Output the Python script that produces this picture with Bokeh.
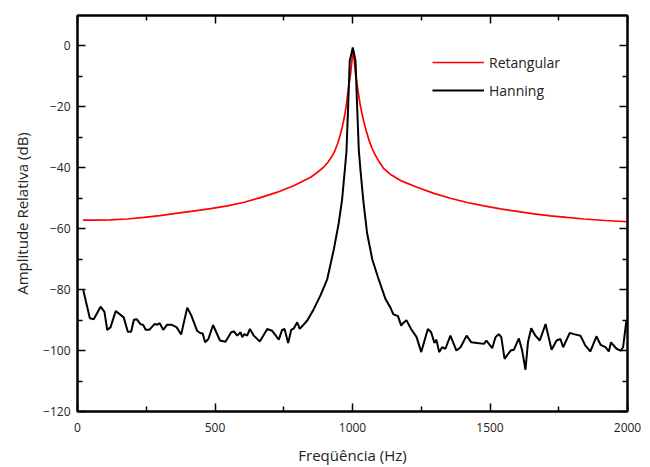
from bokeh.plotting import figure
from bokeh.models import (Range1d, LinearAxis, FixedTicker, CustomJSTickFormatter,
                          Legend, LegendItem)
from bokeh.embed import file_html
from bokeh.resources import INLINE

# Rectangular window spectrum (Hz, dB)
rect_freq = [20, 60, 120, 180, 242, 300, 364, 420, 484, 545, 606, 665, 727, 788, 848,
             875, 895, 912, 925, 936, 946, 955, 963, 970, 977, 984, 993, 999, 1002,
             1005, 1011, 1020, 1027, 1034, 1041, 1050, 1060, 1071, 1084, 1098, 1114,
             1140, 1175, 1235, 1296, 1356, 1417, 1478, 1538, 1599, 1660, 1720, 1780,
             1841, 1920, 2000]
rect_db = [-57.2, -57.2, -57.1, -56.8, -56.3, -55.7, -54.9, -54.2, -53.4, -52.5, -51.3,
           -49.8, -48.0, -45.8, -43.1, -41.3, -39.8, -38.0, -36.3, -34.4, -32.0, -29.3,
           -26.5, -23.5, -19.8, -14.7, -9.2, -3.8, -0.7,
           -3.8, -9.2, -14.7, -18.8, -22.0, -24.8, -27.9, -30.9, -33.6, -36.0, -38.2,
           -40.3, -42.3, -44.2, -46.4, -48.4, -50.0, -51.4, -52.5, -53.5, -54.3, -55.1,
           -55.8, -56.3, -56.8, -57.3, -57.7]

# Hanning window spectrum (Hz, dB)
hann_freq = [21, 45, 59, 84, 98, 108, 120, 139, 168, 183, 195, 205, 215, 229, 239, 248,
             261, 280, 290, 299, 312, 326, 341, 360, 377, 399, 413, 435, 447, 455, 464,
             476, 493, 518, 538, 559, 569, 581, 593, 599, 607, 617, 627, 641, 663, 690,
             708, 732, 744, 753, 766, 777, 787, 799, 808, 835, 859, 884, 908, 932, 950,
             962, 972, 978, 984, 990, 1001, 1011, 1017, 1023, 1029, 1039, 1053, 1072,
             1093, 1120, 1138, 1148, 1156, 1165, 1177, 1184, 1196, 1213, 1233, 1250,
             1274, 1286, 1298, 1305, 1315, 1326, 1338, 1356, 1378, 1393, 1415, 1432,
             1453, 1478, 1487, 1508, 1520, 1532, 1541, 1553, 1575, 1587, 1605, 1617,
             1629, 1638, 1650, 1665, 1681, 1702, 1724, 1742, 1756, 1766, 1790, 1805,
             1829, 1847, 1865, 1887, 1902, 1920, 1932, 1940, 1960, 1975, 1984, 1996]
hann_db = [-80.2, -89.4, -89.7, -85.6, -87.3, -93.2, -92.4, -87.0, -89.1, -93.8, -93.8,
           -89.9, -89.7, -91.3, -91.6, -93.2, -93.2, -91.3, -91.5, -91.0, -93.2, -91.5,
           -91.5, -92.3, -94.7, -85.9, -88.3, -93.5, -94.3, -94.3, -97.3, -96.2, -91.6,
           -96.7, -97.1, -94.0, -93.7, -95.1, -94.0, -95.6, -94.6, -95.1, -92.9, -95.1,
           -97.0, -92.9, -93.5, -96.4, -93.2, -92.9, -97.5, -93.2, -92.7, -90.7, -92.9,
           -90.2, -86.4, -81.8, -76.6, -66.8, -58.1, -50.5, -40.8, -34.8, -20.1, -4.9,
           -0.5, -4.9, -20.1, -34.2, -40.8, -50.5, -61.4, -70.1, -76.0, -83.1, -85.9,
           -88.0, -88.4, -88.6, -91.8, -91.0, -90.0, -92.9, -95.6, -100.5, -92.9, -94.0,
           -97.5, -96.4, -100.5, -98.9, -99.4, -95.1, -100.0, -98.9, -95.1, -97.3, -97.5,
           -97.8, -96.7, -99.2, -95.6, -94.6, -95.6, -102.7, -100.0, -99.7, -96.0,
           -100.0, -106.3, -97.3, -92.7, -95.1, -96.7, -91.3, -99.7, -96.7, -96.2,
           -98.9, -94.2, -94.6, -95.1, -98.4, -100.3, -95.3, -98.1, -98.9, -100.3,
           -97.3, -99.4, -100.0, -98.9, -90.2]

x_ticks = [0, 500, 1000, 1500, 2000]
x_minor = [250, 750, 1250, 1750]
y_ticks = [-120, -100, -80, -60, -40, -20, 0]
y_minor = [-110, -90, -70, -50, -30, -10]
series_names = ["Retangular", "Hanning"]
x_label = "Freqüência (Hz)"
y_label = "Amplitude Relativa (dB)"

FONT = "Open Sans"
TXT = "#222222"

p = figure(width=650, height=467, x_range=Range1d(0, 2000), y_range=Range1d(-120, 10),
           output_backend="svg", toolbar_location=None,
           min_border_left=77, min_border_right=23, min_border_top=15, min_border_bottom=54,
           x_axis_location=None, y_axis_location=None)
p.grid.visible = False
p.outline_line_color = "black"
p.outline_line_width = 2


def style(ax):
    ax.axis_line_color = "black"
    ax.axis_line_width = 2
    ax.major_tick_in = 8
    ax.major_tick_out = 0
    ax.minor_tick_in = 5
    ax.minor_tick_out = 0
    ax.major_tick_line_width = 1.5
    ax.minor_tick_line_width = 1.5
    ax.major_label_text_font = FONT
    ax.major_label_text_font_size = "12px"
    ax.major_label_text_color = TXT
    ax.axis_label_text_font = FONT
    ax.axis_label_text_font_size = "15px"
    ax.axis_label_text_font_style = "normal"
    ax.axis_label_text_color = TXT


bx = LinearAxis(axis_label=x_label)
tx = LinearAxis()
ly = LinearAxis(axis_label=y_label)
ry = LinearAxis()
for ax in (bx, tx):
    ax.ticker = FixedTicker(ticks=x_ticks, minor_ticks=x_minor)
    style(ax)
for ax in (ly, ry):
    ax.ticker = FixedTicker(ticks=y_ticks, minor_ticks=y_minor)
    style(ax)
bx.major_label_standoff = 11
bx.axis_label_standoff = 10
ly.major_label_standoff = 7
ly.axis_label_standoff = 8
for ax in (tx, ry):
    ax.formatter = CustomJSTickFormatter(code="return ''")
    ax.major_label_text_font_size = "0px"
p.add_layout(bx, "below")
p.add_layout(tx, "above")
p.add_layout(ly, "left")
p.add_layout(ry, "right")

r1 = p.line(rect_freq, rect_db, line_color="#ff0000", line_width=1.7)
r2 = p.line(hann_freq, hann_db, line_color="black", line_width=2)

legend = Legend(items=[LegendItem(label=series_names[0], renderers=[r1]),
                       LegendItem(label=series_names[1], renderers=[r2])],
                location=(355, 311), padding=0, margin=0, spacing=8,
                glyph_width=52, glyph_height=20, label_height=20, label_standoff=5,
                border_line_alpha=0, background_fill_alpha=0,
                label_text_font=FONT, label_text_font_size="14px", label_text_color=TXT)
p.add_layout(legend)

open("out.html", "w").write(file_html(p, INLINE))
